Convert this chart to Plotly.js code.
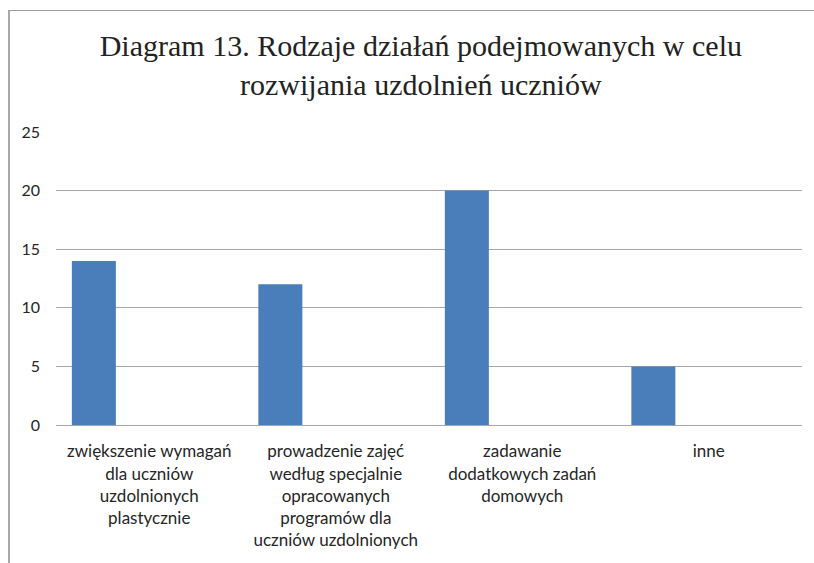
<!DOCTYPE html>
<html>
<head>
<meta charset="utf-8">
<script src="https://cdn.plot.ly/plotly-3.0.1.min.js"></script>
<style>
  html, body { margin: 0; padding: 0; background: #fff; }
  #frame { position: absolute; left: 8px; top: 10px; width: 820px; height: 600px;
           border-top: 1.5px solid #9c9c9c; border-left: 2px solid #a8a8a8; }
  #chart { position: absolute; left: 0; top: 0; width: 814px; height: 563px; }
</style>
</head>
<body>
<div id="frame"></div>
<div id="chart"></div>
<script>
const categories = [
  "zwiększenie wymagań<br>dla uczniów<br>uzdolnionych<br>plastycznie",
  "prowadzenie zajęć<br>według specjalnie<br>opracowanych<br>programów dla<br>uczniów uzdolnionych",
  "zadawanie<br>dodatkowych zadań<br>domowych",
  "inne"
];
const values = [14, 12, 20, 5];
const yTicks = [0, 5, 10, 15, 20, 25];
const titleText = "Diagram 13. Rodzaje działań podejmowanych w celu<br>rozwijania uzdolnień uczniów";

const trace = {
  type: "bar",
  x: categories,
  y: values,
  offset: -0.415,
  width: 0.236,
  marker: { color: "#4a7ebb" },
  hoverinfo: "none"
};

const layout = {
  width: 814, height: 563,
  margin: { l: 56, r: 12, t: 132, b: 138 },
  paper_bgcolor: "rgba(0,0,0,0)",
  plot_bgcolor: "rgba(0,0,0,0)",
  showlegend: false,
  title: {
    text: titleText,
    font: { family: "Liberation Serif", size: 30, color: "#222" },
    xref: "container", x: 0.517, xanchor: "center",
    yref: "container", y: 0.90, yanchor: "top"
  },
  xaxis: {
    type: "category",
    showgrid: false,
    showline: true, linecolor: "#a6a6a6", linewidth: 1,
    ticks: "",
    ticklabelstandoff: 11,
    tickfont: { family: "Lato", size: 17, color: "#262626" }
  },
  yaxis: {
    range: [0, 25],
    tickvals: yTicks,
    showgrid: true, gridcolor: "#a6a6a6", gridwidth: 1,
    zeroline: false,
    showline: false,
    ticks: "",
    ticklabelstandoff: 15,
    tickfont: { family: "Lato", size: 16, color: "#262626" }
  }
};

Plotly.newPlot("chart", [trace], layout, { staticPlot: true, displayModeBar: false });
</script>
</body>
</html>
